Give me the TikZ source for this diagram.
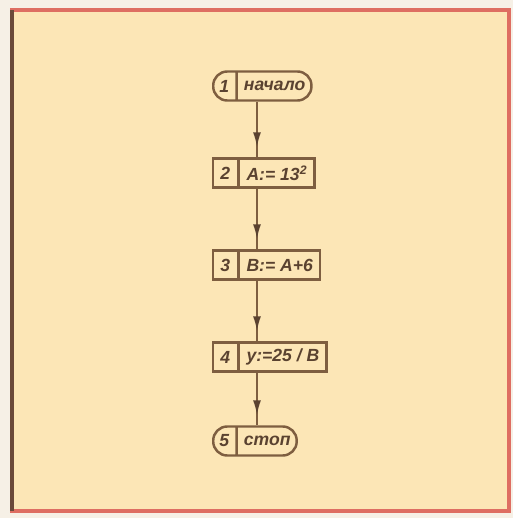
\documentclass[tikz,border=0pt]{standalone}
\usepackage{fontspec}
\setmainfont{Liberation Sans}
\usetikzlibrary{arrows.meta, positioning, shapes.multipart, decorations.markings}
\definecolor{paper}{HTML}{F6F0E6}
\definecolor{card}{HTML}{FCE6B6}
\definecolor{rim}{HTML}{DE6E62}
\definecolor{rimdark}{HTML}{6B4A3A}
\definecolor{ink}{HTML}{5A4230}
\definecolor{edge}{HTML}{7E5E40}

\tikzset{
  block/.style={rectangle split, rectangle split horizontal, rectangle split parts=2,
    draw=edge, line width=1.4pt, text=ink,
    font=\fontsize{10}{12}\selectfont\bfseries\itshape,
    minimum height=0.58cm, inner xsep=4pt, inner ysep=2pt, anchor=west},
  term/.style={block, rounded corners=0.28cm, inner xsep=3.5pt},
  flow/.style={draw=edge, line width=1.1pt, postaction={decorate},
    decoration={markings, mark=at position -0.2cm with {\arrow[ink]{Latex[length=3mm,width=1.6mm]}}}},
}

\begin{document}
\begin{tikzpicture}
\useasboundingbox (0,0) rectangle (10.26,10.36);
\fill[paper] (0,0) rectangle (10.26,10.36);

% card with its frame
\fill[card] (0.24,0.14) rectangle (10.18,10.16);
\draw[rim, line width=2.4pt] (0.24,0.14) rectangle (10.18,10.16);
\draw[rimdark, line width=2.4pt] (0.24,0.14) -- (0.24,10.16);

% the connectors run down this line
\coordinate (spine) at (5.14,0);

% blocks
\node[term]  (start) at (4.24,8.64) {1 \nodepart{two} начало};
\node[block] (sq)    at (4.24,6.90) {2 \nodepart{two} A:= 13\textsuperscript{2}};
\node[block] (add)   at (4.24,5.06) {3 \nodepart{two} B:= A+6};
\node[block] (div)   at (4.24,3.22) {4 \nodepart{two} y:=25 / B};
\node[term]  (stop)  at (4.24,1.54) {5 \nodepart{two} стоп};

% flow lines
\draw[flow] (start.south -| spine) -- (sq.north -| spine);
\draw[flow] (sq.south -| spine) -- (add.north -| spine);
\draw[flow] (add.south -| spine) -- (div.north -| spine);
\draw[flow] (div.south -| spine) -- (stop.north -| spine);

\end{tikzpicture}
\end{document}
